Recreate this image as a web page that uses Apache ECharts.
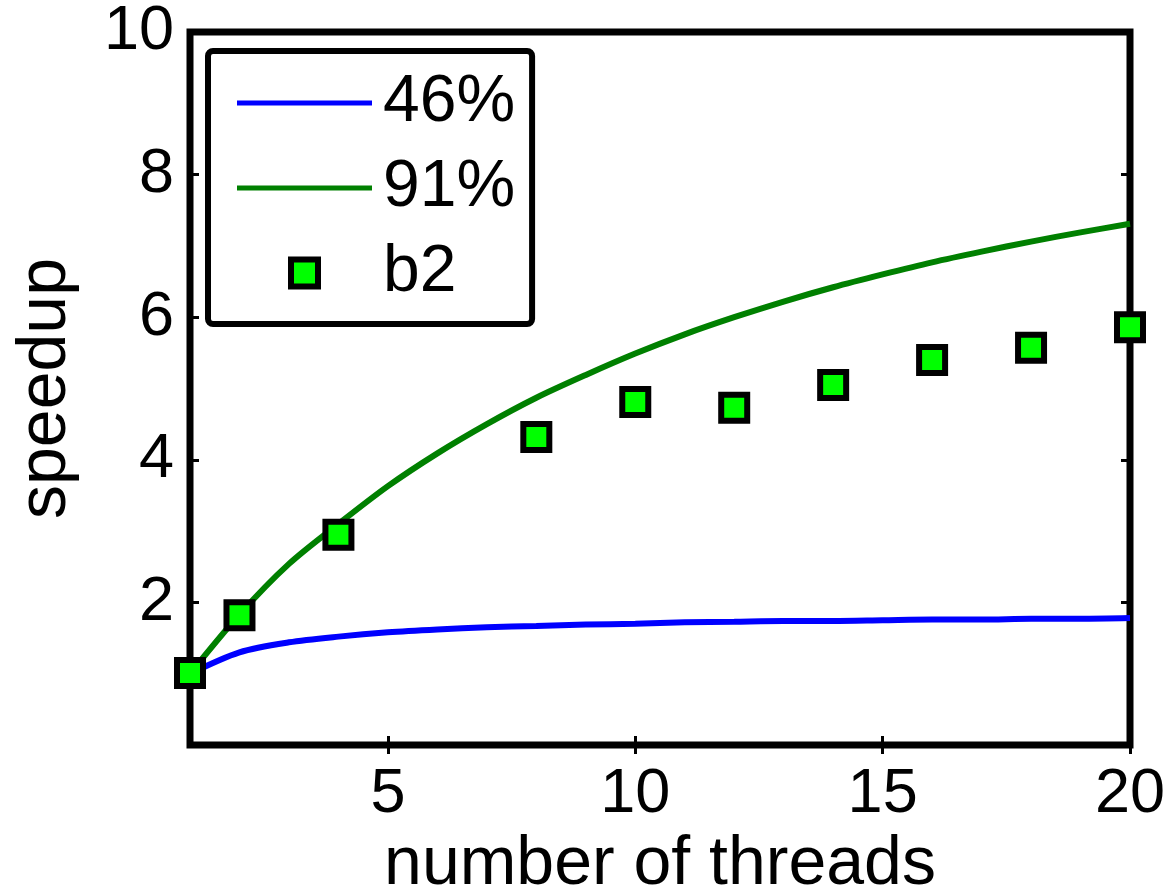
<!DOCTYPE html>
<html>
<head>
<meta charset="utf-8">
<script src="https://cdn.jsdelivr.net/npm/echarts@6/dist/echarts.min.js"></script>
<style>
html,body{margin:0;padding:0;background:#fff;}
#c{width:1169px;height:896px;}
</style>
</head>
<body>
<div id="c"></div>
<script>
// Thread counts for the model curves
var threads = [1,2,3,4,5,6,7,8,9,10,11,12,13,14,15,16,17,18,19,20];
// Model speedup, 46% parallel
var speedup46 = [1.00,1.30,1.44,1.52,1.58,1.62,1.65,1.67,1.69,1.70,1.72,1.73,1.74,1.74,1.75,1.76,1.76,1.77,1.77,1.78];
// Model speedup, 91% parallel
var speedup91 = [1.00,1.83,2.54,3.10,3.63,4.09,4.50,4.87,5.19,5.49,5.76,6.00,6.22,6.42,6.60,6.77,6.92,7.06,7.19,7.31];
// Measured b2 points
var b2Threads = [1,2,4,8,10,12,14,16,18,20];
var b2Speedup = [1.01,1.82,2.95,4.32,4.81,4.73,5.05,5.40,5.57,5.86];
// Tick labels
var xTicks = [5,10,15,20];
var yTicks = [2,4,6,8,10];

function pairs(xs, ys){ return xs.map(function(x,i){ return [x, ys[i]]; }); }

var font = 'Liberation Sans, Arial, Helvetica, sans-serif';
var chart = echarts.init(document.getElementById('c'), null, {renderer:'canvas'});

var tickStyle = {show:true, inside:true, length:9, lineStyle:{color:'#000', width:3}};
var lineIcon = 'path://M0,0L135,0L135,5L0,5Z';
var squareIcon = 'path://M0,0L10,0L10,10L0,10Z';

chart.setOption({
  animation:false,
  backgroundColor:'#fff',
  grid:{left:190, right:39, top:32, bottom:151, outerBoundsMode:'none', containLabel:false,
        show:true, borderColor:'#000', borderWidth:7, backgroundColor:'transparent'},
  legend:{
    show:true, orient:'vertical', left:208, top:51,
    data:[
      {name:'46%', icon:lineIcon},
      {name:'91%', icon:lineIcon},
      {name:'b2', icon:squareIcon, itemStyle:{color:'#00ff00', borderColor:'#000', borderWidth:6}}
    ],
    itemWidth:135, itemHeight:27, itemGap:19, symbolKeepAspect:true,
    padding:[19,17,18,29],
    borderColor:'#000', borderWidth:6, borderRadius:5,
    backgroundColor:'#fff',
    textStyle:{fontFamily:font, fontSize:66, color:'#000', lineHeight:66, padding:[0,0,0,6]},
    selectedMode:false
  },
  xAxis:[{
    type:'value', min:1, max:20, position:'bottom',
    name:'number of threads', nameLocation:'middle', nameGap:80,
    nameTextStyle:{fontFamily:font, fontSize:68, color:'#000'},
    axisLine:{show:false},
    axisTick:Object.assign({customValues:xTicks}, tickStyle),
    axisLabel:{customValues:xTicks, fontFamily:font, fontSize:63, color:'#000', margin:18},
    splitLine:{show:false}
  },{
    type:'value', min:1, max:20, position:'top',
    axisLine:{show:false},
    axisTick:Object.assign({customValues:xTicks}, tickStyle),
    axisLabel:{show:false},
    splitLine:{show:false}
  }],
  yAxis:[{
    type:'value', min:0, max:10, interval:2, position:'left',
    name:'speedup', nameLocation:'middle', nameGap:110, nameRotate:90,
    nameTextStyle:{fontFamily:font, fontSize:68, color:'#000'},
    axisLine:{show:false},
    axisTick:tickStyle,
    axisLabel:{fontFamily:font, fontSize:63, color:'#000', margin:16,
      formatter:function(v){ return yTicks.indexOf(v) >= 0 ? String(v) : ''; }},
    splitLine:{show:false}
  },{
    type:'value', min:0, max:10, interval:2, position:'right',
    axisLine:{show:false},
    axisTick:tickStyle,
    axisLabel:{show:false},
    splitLine:{show:false}
  }],
  series:[{
    name:'46%', type:'line', data:pairs(threads, speedup46),
    symbol:'none', smooth:0.3, lineStyle:{color:'#0000ff', width:6}, itemStyle:{color:'#0000ff'}, z:2
  },{
    name:'91%', type:'line', data:pairs(threads, speedup91),
    symbol:'none', smooth:0.3, lineStyle:{color:'#008000', width:6}, itemStyle:{color:'#008000'}, z:2
  },{
    name:'b2', type:'scatter', data:pairs(b2Threads, b2Speedup),
    symbol:'rect', symbolSize:26,
    itemStyle:{color:'#00ff00', borderColor:'#000', borderWidth:6, opacity:1}, z:5
  }]
});
</script>
</body>
</html>
